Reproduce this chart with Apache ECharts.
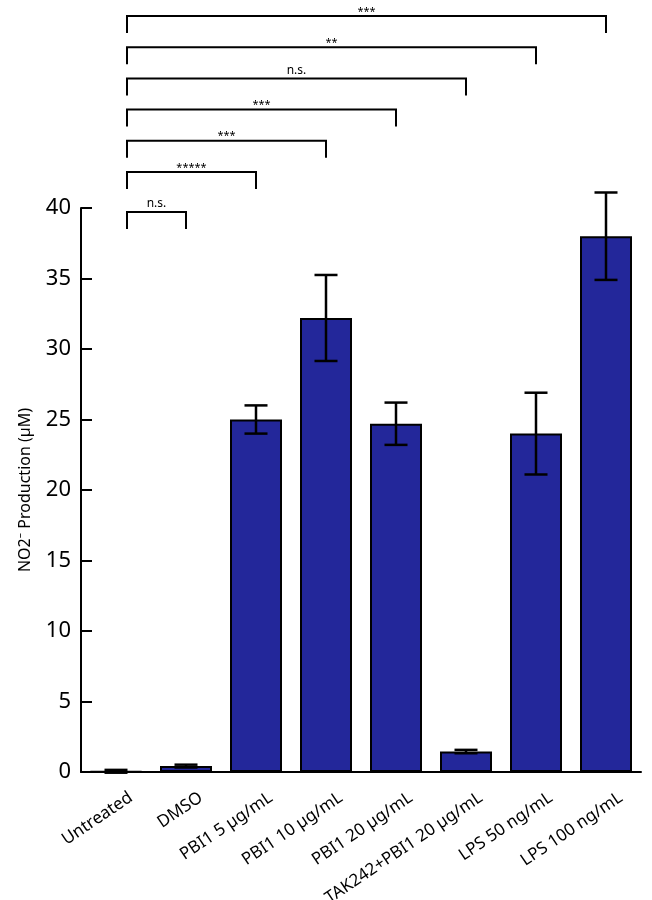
<!DOCTYPE html>
<html>
<head>
<meta charset="utf-8">
<script src="https://cdn.jsdelivr.net/npm/echarts@6/dist/echarts.min.js"></script>
<style>
html,body{margin:0;padding:0;background:#fff;}
#chart{width:652px;height:900px;}
</style>
</head>
<body>
<div id="chart"></div>
<script>
var categories = ['Untreated', 'DMSO', 'PBI1 5 µg/mL', 'PBI1 10 µg/mL', 'PBI1 20 µg/mL', 'TAK242+PBI1 20 µg/mL', 'LPS 50 ng/mL', 'LPS 100 ng/mL'];
var values = [0.05, 0.42, 25.0, 32.2, 24.7, 1.45, 24.0, 38.0];
var errors = [0.1, 0.1, 1.0, 3.05, 1.5, 0.12, 2.9, 3.1];
var yTicks = [0, 5, 10, 15, 20, 25, 30, 35, 40];
// significance brackets: compared against 'Untreated'
var bracketTargets = ['DMSO', 'PBI1 5 µg/mL', 'PBI1 10 µg/mL', 'PBI1 20 µg/mL', 'TAK242+PBI1 20 µg/mL', 'LPS 50 ng/mL', 'LPS 100 ng/mL'];
var bracketLabels = ['n.s.', '*****', '***', '***', 'n.s.', '**', '***'];

var FONT = 'Noto Sans';
var chart = echarts.init(document.getElementById('chart'));

var errData = values.map(function (v, i) { return [i, v - errors[i], v + errors[i]]; });
var bracketData = bracketTargets.map(function (t, i) { return [0, categories.indexOf(t), i]; });
var labelData = categories.map(function (c, i) { return [i, 0]; });

var GRID_TOP = 208;

chart.setOption({
  animation: false,
  backgroundColor: '#fff',
  grid: { left: 81, right: 11, top: GRID_TOP, bottom: 128, containLabel: false },
  xAxis: {
    type: 'category',
    data: categories,
    axisLine: { lineStyle: { color: '#000', width: 2 } },
    axisTick: { inside: true, length: 14, lineStyle: { color: '#000', width: 2 } },
    axisLabel: { show: false }
  },
  yAxis: {
    type: 'value',
    min: 0, max: 40, interval: 5,
    name: 'NO2⁻ Production (µM)',
    nameLocation: 'middle',
    nameGap: 48,
    nameTextStyle: { color: '#000', fontSize: 16, fontFamily: FONT },
    splitLine: { show: false },
    axisLine: { show: true, lineStyle: { color: '#000', width: 2 } },
    axisTick: { show: true, inside: true, length: 11, lineStyle: { color: '#000', width: 2 } },
    axisLabel: { color: '#000', fontSize: 22, fontFamily: FONT, margin: 10,
      formatter: function (v) { return yTicks.indexOf(v) >= 0 ? String(v) : ''; } }
  },
  series: [
    {
      type: 'bar',
      data: values,
      barWidth: 52,
      itemStyle: { color: '#23279a', borderColor: '#000', borderWidth: 2 },
      z: 2
    },
    {
      type: 'custom',
      data: errData,
      z: 3,
      renderItem: function (params, api) {
        var lo = api.coord([api.value(0), api.value(1)]);
        var hi = api.coord([api.value(0), api.value(2)]);
        var x = hi[0], hw = 11.5;
        var st = { stroke: '#000', lineWidth: 2.5 };
        return { type: 'group', children: [
          { type: 'line', shape: { x1: x, y1: hi[1], x2: x, y2: lo[1] }, style: st },
          { type: 'line', shape: { x1: x - hw, y1: hi[1], x2: x + hw, y2: hi[1] }, style: st },
          { type: 'line', shape: { x1: x - hw, y1: lo[1], x2: x + hw, y2: lo[1] }, style: st }
        ]};
      }
    },
    {
      type: 'custom',
      data: labelData,
      clip: false,
      z: 4,
      renderItem: function (params, api) {
        var p = api.coord([api.value(0), 0]);
        return { type: 'text', x: p[0] + 15, y: p[1] + 24, rotation: Math.PI * 34 / 180,
          style: { text: categories[params.dataIndex], textAlign: 'right', textVerticalAlign: 'middle',
            fontSize: 17, fontFamily: FONT, fill: '#000' } };
      }
    },
    {
      type: 'custom',
      data: bracketData,
      clip: false,
      z: 4,
      renderItem: function (params, api) {
        var i = params.dataIndex;
        var x1 = api.coord([api.value(0), 0])[0] + 11;
        var x2 = api.coord([api.value(1), 0])[0];
        var y = i === 0 ? GRID_TOP + 4 : 172 - (i - 1) * 31.2;
        var leg = 17;
        var label = bracketLabels[i];
        var isStar = label.indexOf('*') >= 0;
        return { type: 'group', children: [
          { type: 'polyline', shape: { points: [[x1, y + leg], [x1, y], [x2, y], [x2, y + leg]] },
            style: { stroke: '#000', lineWidth: 2, fill: null } },
          { type: 'text', x: (x1 + x2) / 2, y: isStar ? y + 1 : y - 2,
            style: { text: label, textAlign: 'center', textVerticalAlign: 'bottom',
              fontSize: isStar ? 11 : 12, fontFamily: FONT, fill: '#000' } }
        ]};
      }
    }
  ]
});
</script>
</body>
</html>
